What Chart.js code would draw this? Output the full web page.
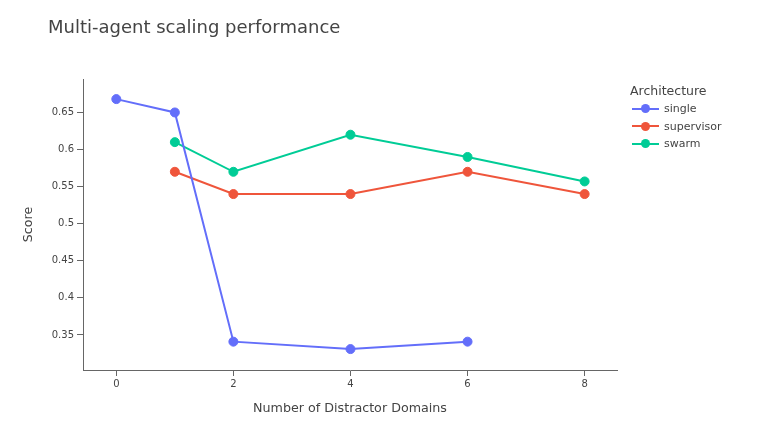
<!DOCTYPE html>
<html>
<head>
<meta charset="utf-8">
<script src="https://cdn.jsdelivr.net/npm/chart.js@4"></script>
<style>
  html, body { margin: 0; padding: 0; background: #fff; }
  #wrap { position: relative; width: 768px; height: 431px; overflow: hidden; font-family: "DejaVu Sans", Verdana, sans-serif; color: #444; }
  #c { position: absolute; left: 0; top: 0; }
  #title { position: absolute; left: 48px; top: 16px; font-size: 18px; line-height: 22px; white-space: nowrap; }
  #legend { position: absolute; left: 630px; top: 82px; }
  #legend .lt { font-size: 12.5px; line-height: 18px; height: 18px; white-space: nowrap; }
  #legend .it { position: relative; height: 17.6px; line-height: 17.6px; font-size: 11px; white-space: nowrap; }
  #legend .ln { position: absolute; left: 2px; top: 7.8px; width: 27px; height: 2px; }
  #legend .dt { position: absolute; left: 11px; top: 4.3px; width: 9px; height: 9px; border-radius: 50%; }
  #legend .tx { position: absolute; left: 34px; top: 0; }
</style>
</head>
<body>
<div id="wrap">
  <canvas id="c" width="768" height="431"></canvas>
  <div id="title">Multi-agent scaling performance</div>
  <div id="legend"></div>
</div>
<script>
// ---- data ----
const seriesNames = ["single", "supervisor", "swarm"];
const seriesColors = ["#636efa", "#EF553B", "#00cc96"];
const singleX = [0, 1, 2, 4, 6];
const singleY = [0.668, 0.65, 0.341, 0.331, 0.341];
const supervisorX = [1, 2, 4, 6, 8];
const supervisorY = [0.57, 0.54, 0.54, 0.57, 0.54];
const swarmX = [1, 2, 4, 6, 8];
const swarmY = [0.61, 0.57, 0.62, 0.59, 0.557];
const xTicks = [0, 2, 4, 6, 8];
const yTicks = [0.35, 0.4, 0.45, 0.5, 0.55, 0.6, 0.65];
const titleText = "Multi-agent scaling performance";
const xTitle = "Number of Distractor Domains";
const yTitle = "Score";
const legendTitle = "Architecture";

const xs = [singleX, supervisorX, swarmX];
const ys = [singleY, supervisorY, swarmY];

const datasets = seriesNames.map((n, i) => ({
  label: n,
  data: xs[i].map((x, j) => ({ x: x, y: ys[i][j] })),
  borderColor: seriesColors[i],
  backgroundColor: seriesColors[i],
  pointBackgroundColor: seriesColors[i],
  pointBorderColor: seriesColors[i],
  borderWidth: 2,
  pointRadius: 4.5,
  pointBorderWidth: 1,
  tension: 0,
  fill: false
}));

// legend (HTML text)
const leg = document.getElementById('legend');
const lt = document.createElement('div'); lt.className = 'lt'; lt.textContent = legendTitle; leg.appendChild(lt);
seriesNames.forEach((n, i) => {
  const it = document.createElement('div'); it.className = 'it';
  const ln = document.createElement('div'); ln.className = 'ln'; ln.style.background = seriesColors[i];
  const dt = document.createElement('div'); dt.className = 'dt'; dt.style.background = seriesColors[i];
  const tx = document.createElement('div'); tx.className = 'tx'; tx.textContent = n;
  it.appendChild(ln); it.appendChild(dt); it.appendChild(tx);
  leg.appendChild(it);
});
document.getElementById('title').textContent = titleText;

const axisColor = '#666';
const textColor = '#444';
const fontFam = '"DejaVu Sans", Verdana, sans-serif';

new Chart(document.getElementById('c'), {
  type: 'line',
  data: { datasets: datasets },
  options: {
    responsive: false,
    animation: false,
    devicePixelRatio: 1,
    layout: { padding: { top: 79, right: 151, left: 0, bottom: 0 } },
    plugins: { legend: { display: false }, title: { display: false }, tooltip: { enabled: false } },
    scales: {
      x: {
        type: 'linear',
        min: -0.569,
        max: 8.553,
        afterBuildTicks: (s) => { s.ticks = xTicks.map(v => ({ value: v })); },
        afterFit: (s) => { s.height = 61; },
        grid: { display: true, drawOnChartArea: false, drawTicks: true, tickLength: 6, color: axisColor, lineWidth: 1 },
        border: { display: true, color: axisColor, width: 1 },
        ticks: { color: textColor, font: { family: fontFam, size: 10 }, padding: 2, maxRotation: 0, autoSkip: false },
        title: { display: true, text: xTitle, color: textColor, font: { family: fontFam, size: 12.7 }, padding: { top: 0, bottom: 15 } }
      },
      y: {
        type: 'linear',
        min: 0.3028,
        max: 0.6951,
        afterBuildTicks: (s) => { s.ticks = yTicks.map(v => ({ value: v })); },
        afterFit: (s) => { s.width = 83; },
        grid: { display: true, drawOnChartArea: false, drawTicks: true, tickLength: 6, color: axisColor, lineWidth: 1 },
        border: { display: true, color: axisColor, width: 1 },
        ticks: { color: textColor, font: { family: fontFam, size: 10 }, padding: 3, callback: (v) => String(Math.round(v * 100) / 100) },
        title: { display: true, text: yTitle, color: textColor, font: { family: fontFam, size: 12.7 }, padding: { top: 21, bottom: 0 } }
      }
    }
  }
});
</script>
</body>
</html>
